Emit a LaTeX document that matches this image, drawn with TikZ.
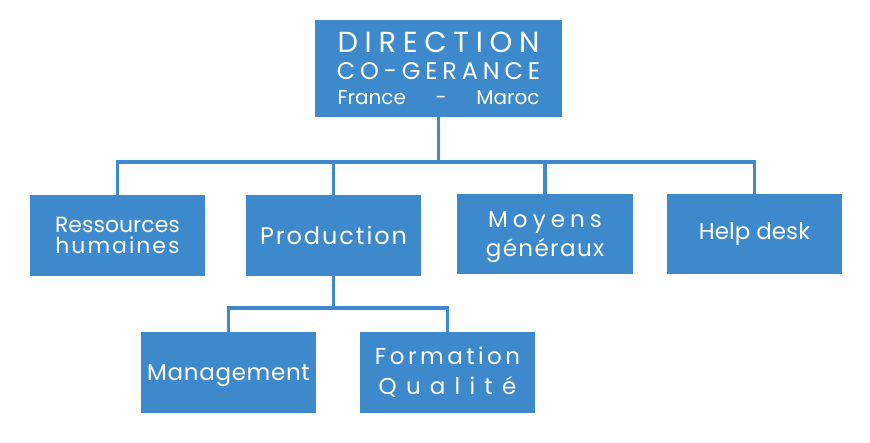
\documentclass[tikz,border=0pt]{standalone}
\usepackage{fontspec}
\newfontfamily\orgfont{Poppins}
\usetikzlibrary{positioning}
\definecolor{orgblue}{RGB}{62,137,204}
\newcommand\spaced[2]{{\addfontfeatures{LetterSpace=#1}#2}}
\newcommand\fs[2]{\fontsize{#1}{#2}\selectfont}
\tikzset{%
	unit/.style={fill=orgblue,text=white,inner sep=0pt,align=center,
		minimum width=175pt,minimum height=81pt,font=\orgfont\fs{23}{29}},%
	link/.style={draw=orgblue,line width=3.8pt}%
}

\begin{document}
\begin{tikzpicture}[x=1pt,y=-1pt]
	\useasboundingbox (0,0) rectangle (870,442);
	%% levels of the horizontal lines
	\coordinate (bus) at (0,162);
	\coordinate (subbus) at (0,308);
	
	%% boxes
	\node[unit,minimum width=247pt,minimum height=97pt,font=\orgfont\fs{24}{26}] (dir) at (438.5,68.5)
		{\fs{29}{26}\spaced{23}{DIRECTION}\\[1pt]
		 \spaced{20}{CO-GERANCE}\\[-1pt]
		 \fs{20}{26}\makebox[202pt][s]{France\hfill-\hfill Maroc}};
	\node[unit,font=\orgfont\fs{22}{21}] (rh) at (117.5,235.5)
		{Ressources\\\spaced{9}{humaines}};
	\node[unit,font=\orgfont\fs{24}{29}] (prod) at (333.5,235.5) {\spaced{8}{Production}};
	\node[unit,minimum width=176pt,minimum height=80pt,text depth=0pt] (moy) at (545,234)
		{\spaced{22}{Moyens}\\\spaced{6}{généraux}};
	\node[unit,minimum height=80pt] (help) at (754.5,234) {Help desk};
	\node[unit,text depth=0pt] (mgmt) at (228.5,372.5) {\spaced{3}{Management}};
	\node[unit,font=\orgfont\fs{23}{30}] (form) at (447.5,372.5)
		{\spaced{15}{Formation}\\\spaced{40}{Qualité}};
	
	%% connectors
	\draw[link] (rh.north) -- (rh.north |- bus) -- (help.north |- bus) -- (help.north);
	\draw[link] (dir.south) -- (dir.south |- bus);
	\foreach \n in {prod,moy} { \draw[link] (\n.north) -- (\n.north |- bus); }
	\draw[link] (mgmt.north) -- (mgmt.north |- subbus) -- (form.north |- subbus) -- (form.north);
	\draw[link] (prod.south) -- (prod.south |- subbus);
\end{tikzpicture}
\end{document}
